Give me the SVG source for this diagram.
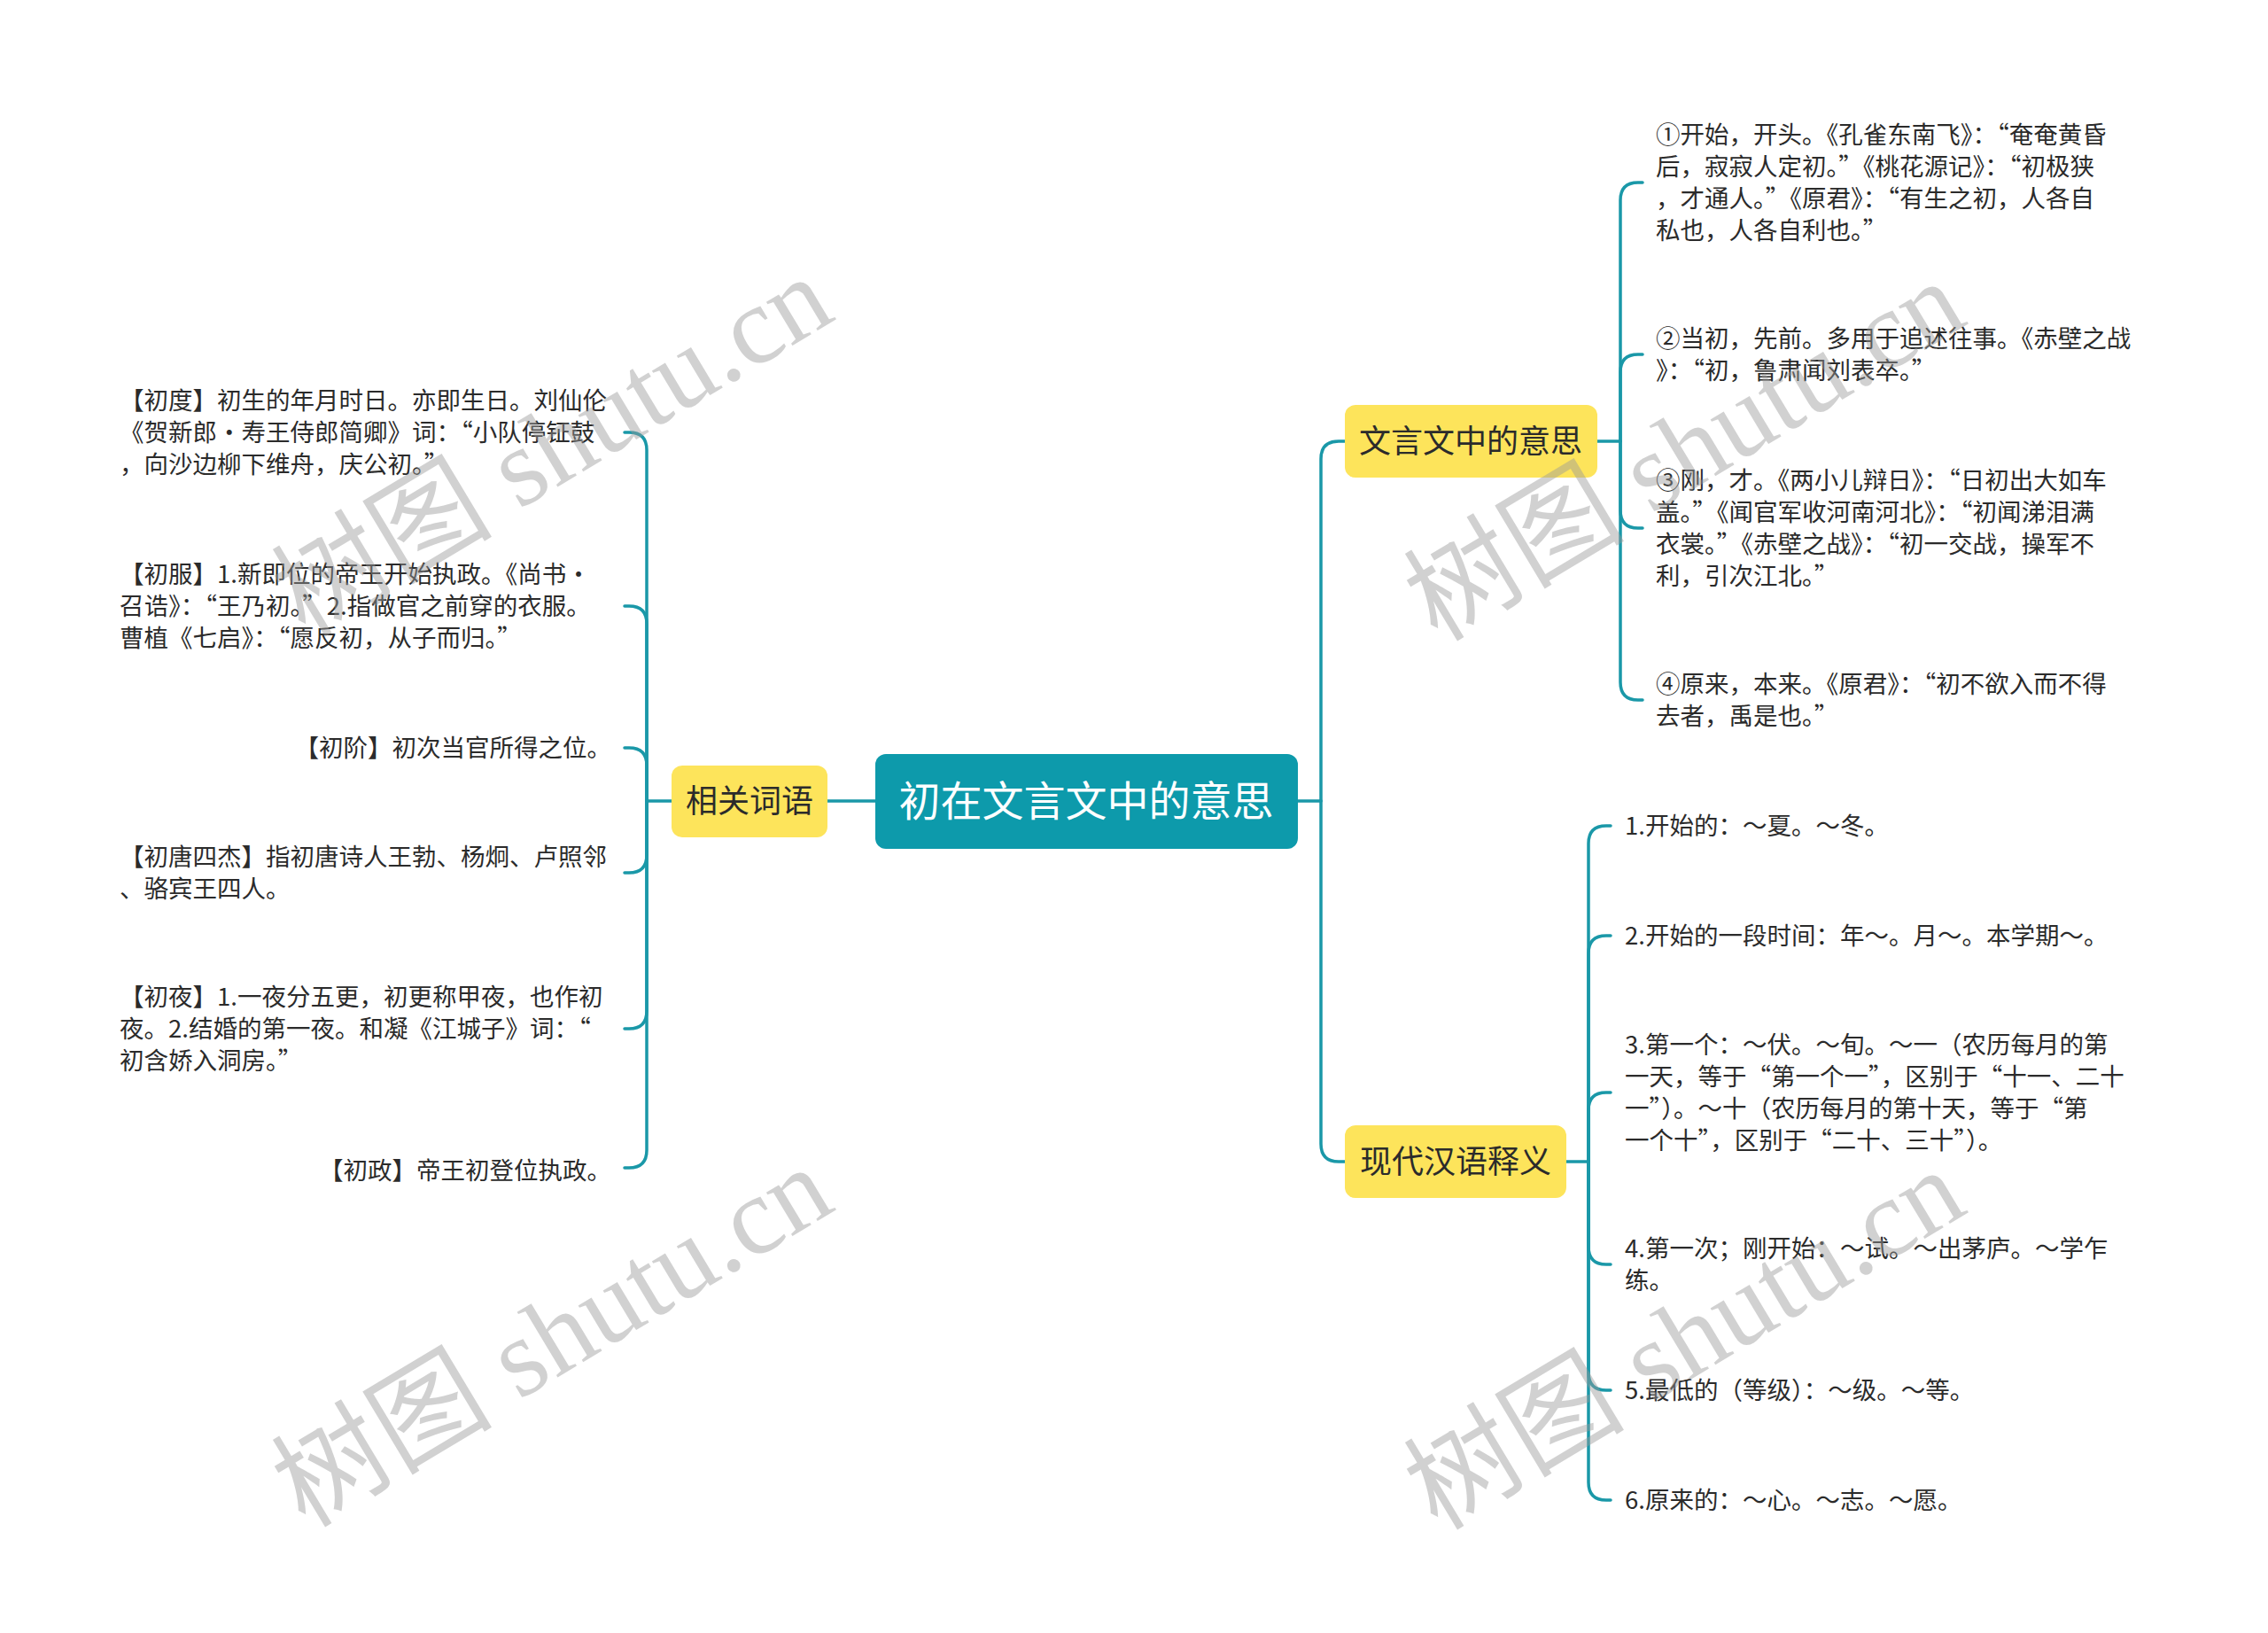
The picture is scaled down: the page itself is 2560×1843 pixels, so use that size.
<svg xmlns="http://www.w3.org/2000/svg" width="2560" height="1843" viewBox="0 0 2560 1843">
<style>
.t{font-family:"Noto Sans CJK SC","Liberation Sans",sans-serif;font-size:27.5px;fill:#2b2b2b}
.e{text-anchor:end}
.b{font-family:"Noto Sans CJK SC","Liberation Sans",sans-serif;font-size:36px;fill:#2b2b2b;text-anchor:middle}
.c{font-family:"Noto Sans CJK SC","Liberation Sans",sans-serif;font-size:47px;fill:#ffffff;text-anchor:middle}
.y{fill:#fde45b}
.ln{fill:none;stroke:#1a98a8;stroke-width:3.5;stroke-linecap:round}
.wm{font-family:"Liberation Serif","Noto Sans CJK SC",serif;font-size:125px;fill:#9a9a9a;fill-opacity:0.45}
</style>
<rect width="2560" height="1843" fill="#ffffff"/>
<g id="connectors" class="ln">
<path d="M988 904 L934 904"/>
<path d="M758 904 L730 904"/>
<path d="M730 904 L730 508 Q730 488 710 488 L705 488"/>
<path d="M730 904 L730 704 Q730 684 710 684 L705 684"/>
<path d="M730 904 L730 864 Q730 844 710 844 L705 844"/>
<path d="M730 904 L730 965 Q730 985 710 985 L705 985"/>
<path d="M730 904 L730 1141 Q730 1161 710 1161 L705 1161"/>
<path d="M730 904 L730 1298 Q730 1318 710 1318 L705 1318"/>
<path d="M1465 904 L1491 904"/>
<path d="M1491 904 L1491 518 Q1491 498 1511 498 L1518 498"/>
<path d="M1491 904 L1491 1291 Q1491 1311 1511 1311 L1518 1311"/>
<path d="M1803 498 L1829 498"/>
<path d="M1829 498 L1829 226 Q1829 206 1849 206 L1854 206"/>
<path d="M1829 498 L1829 420 Q1829 400 1849 400 L1854 400"/>
<path d="M1829 498 L1829 576 Q1829 596 1849 596 L1854 596"/>
<path d="M1829 498 L1829 770 Q1829 790 1849 790 L1854 790"/>
<path d="M1768 1311 L1793 1311"/>
<path d="M1793 1311 L1793 952 Q1793 932 1813 932 L1818 932"/>
<path d="M1793 1311 L1793 1076 Q1793 1056 1813 1056 L1818 1056"/>
<path d="M1793 1311 L1793 1253 Q1793 1233 1813 1233 L1818 1233"/>
<path d="M1793 1311 L1793 1407 Q1793 1427 1813 1427 L1818 1427"/>
<path d="M1793 1311 L1793 1549 Q1793 1569 1813 1569 L1818 1569"/>
<path d="M1793 1311 L1793 1673 Q1793 1693 1813 1693 L1818 1693"/>
</g>
<g id="root">
<rect x="988" y="851" width="477" height="107" rx="12" fill="#0d9aab"/>
<text class="c" x="1226" y="921">初在文言文中的意思</text>
</g>
<g id="n-xiangguan">
<rect class="y" x="758" y="864" width="176" height="81" rx="12"/>
<text class="b" x="846" y="917">相关词语</text>
</g>
<g id="n-wenyan">
<rect class="y" x="1518" y="457" width="285" height="82" rx="12"/>
<text class="b" x="1660" y="511">文言文中的意思</text>
</g>
<g id="n-xiandai">
<rect class="y" x="1518" y="1270" width="250" height="82" rx="12"/>
<text class="b" x="1643" y="1324">现代汉语释义</text>
</g>
<g id="l1"><text class="t"><tspan x="135" y="462">【初度】初生的年月时日。亦即生日。刘仙伦</tspan><tspan x="135" y="498">《贺新郎·寿王侍郎简卿》词：“小队停钲鼓</tspan><tspan x="135" y="534">，向沙边柳下维舟，庆公初。”</tspan></text></g>
<g id="l2"><text class="t"><tspan x="135" y="658">【初服】1.新即位的帝王开始执政。《尚书·</tspan><tspan x="135" y="694">召诰》：“王乃初。”2.指做官之前穿的衣服。</tspan><tspan x="135" y="730">曹植《七启》：“愿反初，从子而归。”</tspan></text></g>
<g id="l3"><text class="t e" x="690" y="854">【初阶】初次当官所得之位。</text></g>
<g id="l4"><text class="t"><tspan x="135" y="977">【初唐四杰】指初唐诗人王勃、杨炯、卢照邻</tspan><tspan x="135" y="1013">、骆宾王四人。</tspan></text></g>
<g id="l5"><text class="t"><tspan x="135" y="1135">【初夜】1.一夜分五更，初更称甲夜，也作初</tspan><tspan x="135" y="1171">夜。2.结婚的第一夜。和凝《江城子》词：“</tspan><tspan x="135" y="1207">初含娇入洞房。”</tspan></text></g>
<g id="l6"><text class="t e" x="690" y="1331">【初政】帝王初登位执政。</text></g>
<g id="w1"><text class="t"><tspan x="1869" y="162">①开始，开头。《孔雀东南飞》：“奄奄黄昏</tspan><tspan x="1869" y="198">后，寂寂人定初。”《桃花源记》：“初极狭</tspan><tspan x="1869" y="234">，才通人。”《原君》：“有生之初，人各自</tspan><tspan x="1869" y="270">私也，人各自利也。”</tspan></text></g>
<g id="w2"><text class="t"><tspan x="1869" y="392">②当初，先前。多用于追述往事。《赤壁之战</tspan><tspan x="1869" y="428">》：“初，鲁肃闻刘表卒。”</tspan></text></g>
<g id="w3"><text class="t"><tspan x="1869" y="552">③刚，才。《两小儿辩日》：“日初出大如车</tspan><tspan x="1869" y="588">盖。”《闻官军收河南河北》：“初闻涕泪满</tspan><tspan x="1869" y="624">衣裳。”《赤壁之战》：“初一交战，操军不</tspan><tspan x="1869" y="660">利，引次江北。”</tspan></text></g>
<g id="w4"><text class="t"><tspan x="1869" y="782">④原来，本来。《原君》：“初不欲入而不得</tspan><tspan x="1869" y="818">去者，禹是也。”</tspan></text></g>
<g id="m1"><text class="t" x="1834" y="942">1.开始的：～夏。～冬。</text></g>
<g id="m2"><text class="t" x="1834" y="1066">2.开始的一段时间：年～。月～。本学期～。</text></g>
<g id="m3"><text class="t"><tspan x="1834" y="1189">3.第一个：～伏。～旬。～一（农历每月的第</tspan><tspan x="1834" y="1225">一天，等于“第一个一”，区别于“十一、二十</tspan><tspan x="1834" y="1261">一”）。～十（农历每月的第十天，等于“第</tspan><tspan x="1834" y="1297">一个十”，区别于“二十、三十”）。</tspan></text></g>
<g id="m4"><text class="t"><tspan x="1834" y="1419">4.第一次；刚开始：～试。～出茅庐。～学乍</tspan><tspan x="1834" y="1455">练。</tspan></text></g>
<g id="m5"><text class="t" x="1834" y="1579">5.最低的（等级）：～级。～等。</text></g>
<g id="m6"><text class="t" x="1834" y="1703">6.原来的：～心。～志。～愿。</text></g>
<g id="watermarks">
<text class="wm" text-anchor="middle" transform="translate(645 540) rotate(-31)">树图 shutu.cn</text>
<text class="wm" text-anchor="middle" transform="translate(645 1545) rotate(-31)">树图 shutu.cn</text>
<text class="wm" text-anchor="middle" transform="translate(1923 545) rotate(-31)">树图 shutu.cn</text>
<text class="wm" text-anchor="middle" transform="translate(1923 1548) rotate(-31)">树图 shutu.cn</text>
</g>
</svg>
